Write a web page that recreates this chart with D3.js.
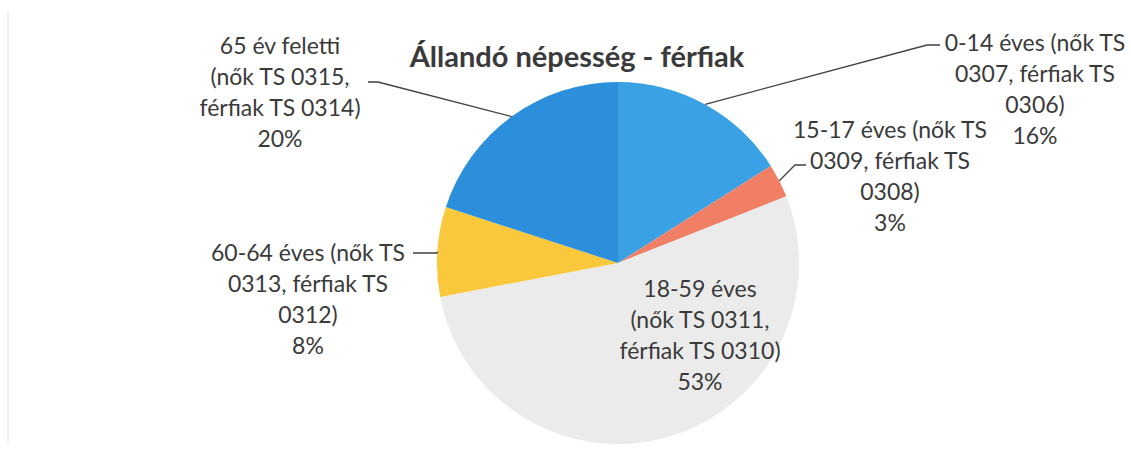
<!DOCTYPE html>
<html>
<head>
<meta charset="utf-8">
<script src="https://cdn.jsdelivr.net/npm/d3@7"></script>
<style>
  html, body { margin: 0; padding: 0; background: #fff; }
  svg { display: block; }
  text { font-family: Lato, "Open Sans", sans-serif; fill: #3a3a3a; }
</style>
</head>
<body>
<div id="chart"></div>
<script>
// data
var title = "Állandó népesség - férfiak";
var labelLines = [
  ["0-14 éves (nők TS", "0307, férfiak TS", "0306)"],
  ["15-17 éves (nők TS", "0309, férfiak TS", "0308)"],
  ["18-59 éves", "(nők TS 0311,", "férfiak TS 0310)"],
  ["60-64 éves (nők TS", "0313, férfiak TS", "0312)"],
  ["65 év feletti", "(nők TS 0315,", "férfiak TS 0314)"]
];
var categories = labelLines.map(function(l) { return l.join(" "); });
var values = [16, 3, 53, 8, 20];
var colors = ["#3aa2e4", "#f07f66", "#ebebeb", "#fac83c", "#2b8fdc"];

var width = 1131, height = 454;
var cx = 618, cy = 263, radius = 181;

// where excel put each label (centre x, first line y), relative to pie centre
var labelPos = [
  [417, -221], [272, -134], [82, 25], [-310, -11], [-338, -218]
];
// elbow for leader lines (null = label sits inside)
var elbows = [
  [[309, -218], [322, -218]],
  [[177, -98], [188, -98]],
  null,
  [[-181, -10], [-205, -10]],
  [[-240, -181], [-250, -181]]
];

var svg = d3.select('#chart').append('svg')
  .attr('width', width)
  .attr('height', height);

// faint frame line at the left like the scan
svg.append('line')
  .attr('x1', 8).attr('x2', 8).attr('y1', 10).attr('y2', 445)
  .style('stroke', '#e4e4e4').style('stroke-width', 1);

svg.append('text')
  .attr('x', 577).attr('y', 55)
  .attr('text-anchor', 'middle')
  .attr('dominant-baseline', 'central')
  .style('font-size', '29px')
  .style('font-weight', 'bold')
  .text(title);

var total = d3.sum(values);
var pie = d3.pie().sort(null).value(function(d) { return d; });
var arcs = pie(values);
var arc = d3.arc().innerRadius(0).outerRadius(radius);
var edgeArc = d3.arc().innerRadius(radius).outerRadius(radius);

var g = svg.append('g').attr('transform', 'translate(' + cx + ',' + cy + ')');

g.selectAll('path.slice')
  .data(arcs)
  .enter().append('path')
  .attr('class', 'slice')
  .attr('d', arc)
  .style('fill', function(d, i) { return colors[i]; });

// leader lines
g.selectAll('path.leader')
  .data(arcs.filter(function(d, i) { return elbows[i]; }))
  .enter().append('path')
  .attr('class', 'leader')
  .attr('d', function(d) {
    var p = edgeArc.centroid(d);
    var e = elbows[d.index];
    return d3.line()([p].concat(e));
  })
  .style('fill', 'none')
  .style('stroke', '#404040')
  .style('stroke-width', 1.3);

var fmt = d3.format('.0%');
var lineH = 31;

var labels = g.selectAll('text.lbl')
  .data(arcs)
  .enter().append('text')
  .attr('class', 'lbl')
  .attr('text-anchor', 'middle')
  .style('font-size', '23px');

labels.each(function(d, i) {
  var t = d3.select(this);
  var lines = labelLines[i].concat([fmt(values[i] / total)]);
  lines.forEach(function(s, k) {
    t.append('tspan')
      .attr('x', labelPos[i][0])
      .attr('y', labelPos[i][1] + k * lineH)
      .attr('dominant-baseline', 'central')
      .text(s);
  });
});
</script>
</body>
</html>
